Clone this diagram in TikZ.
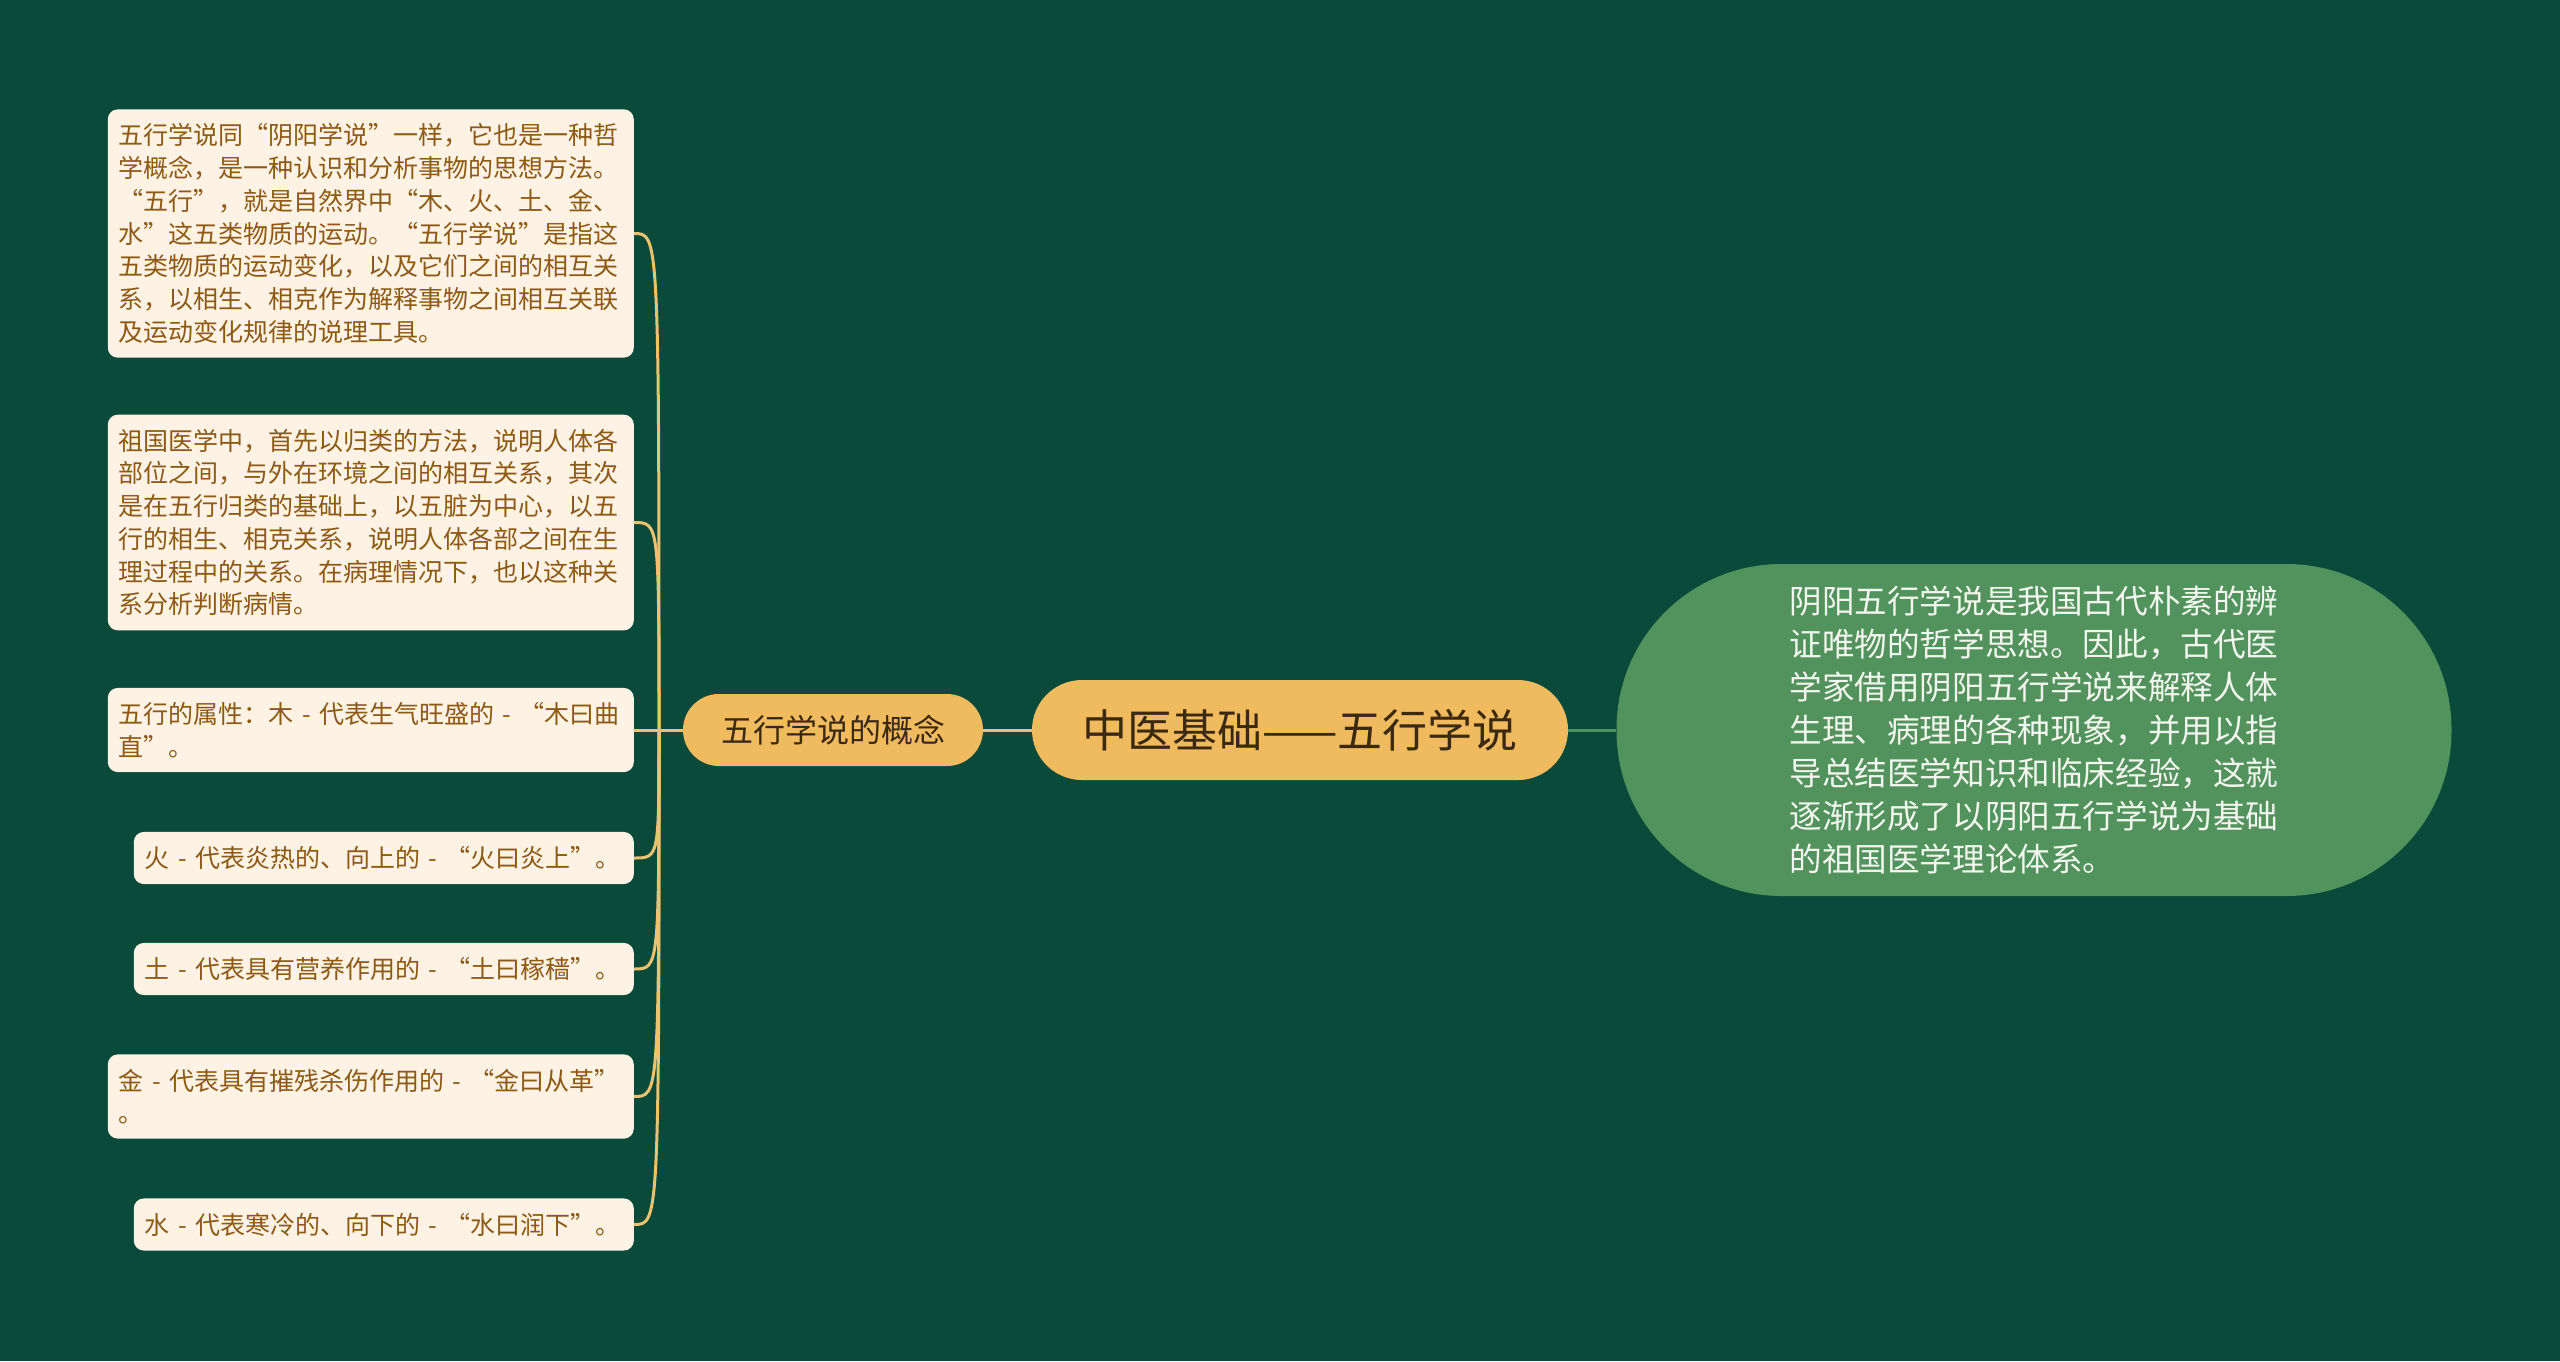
\documentclass[tikz,border=0pt]{standalone}
\usepackage{fontspec}
\setmainfont{Noto Sans CJK SC}
\usetikzlibrary{positioning}

\definecolor{bgdeep}{HTML}{094A3A}
\definecolor{leaffill}{HTML}{FDF2E3}
\definecolor{leaftext}{HTML}{8C5A13}
\definecolor{pillfill}{HTML}{F0BA5F}
\definecolor{pilltext}{HTML}{3A2A12}
\definecolor{notefill}{HTML}{52925C}
\definecolor{notetext}{HTML}{F3F6EE}
\definecolor{branchgold}{HTML}{EBC270}
\definecolor{stemgreen}{HTML}{4E9462}

\begin{document}
\begin{tikzpicture}[x=1pt,y=-1pt,
    leaf/.style={fill=leaffill,text=leaftext,rounded corners=10pt,align=left,
      font=\fontsize{25}{32.7}\selectfont,inner xsep=11pt,inner ysep=14.4pt,anchor=east},
    pill/.style={fill=pillfill,text=pilltext,align=center,inner sep=0pt},
    branch/.style={draw=branchgold,line width=3pt},
    stem/.style={draw=stemgreen,line width=3pt}]
  \fill[bgdeep] (0,0) rectangle (2560,1361);

  % left side: leaves of the concept
  \node[leaf,text width=504pt] (def) at (634,233.5) {五行学说同“阴阳学说”一样，它也是一种哲\\学概念，是一种认识和分析事物的思想方法。\\“五行”，就是自然界中“木、火、土、金、\\水”这五类物质的运动。“五行学说”是指这\\五类物质的运动变化，以及它们之间的相互关\\系，以相生、相克作为解释事物之间相互关联\\及运动变化规律的说理工具。};
  \node[leaf,text width=504pt] (method) at (634,522.5) {祖国医学中，首先以归类的方法，说明人体各\\部位之间，与外在环境之间的相互关系，其次\\是在五行归类的基础上，以五脏为中心，以五\\行的相生、相克关系，说明人体各部之间在生\\理过程中的关系。在病理情况下，也以这种关\\系分析判断病情。};
  \node[leaf,text width=504pt] (wood) at (634,730) {五行的属性：木 - 代表生气旺盛的 - “木曰曲\\直”。};
  \node[leaf,text width=478pt] (fire) at (634,858) {火 - 代表炎热的、向上的 - “火曰炎上”。};
  \node[leaf,text width=478pt] (earth) at (634,969) {土 - 代表具有营养作用的 - “土曰稼穑”。};
  \node[leaf,text width=504pt] (metal) at (634,1096.5) {金 - 代表具有摧残杀伤作用的 - “金曰从革”\\。};
  \node[leaf,text width=478pt] (water) at (634,1224.5) {水 - 代表寒冷的、向下的 - “水曰润下”。};

  % centre
  \node[pill,minimum width=300pt,minimum height=72pt,rounded corners=36pt,
    font=\fontsize{32}{32}\selectfont] (concept) at (833,730) {五行学说的概念};
  \node[pill,minimum width=536pt,minimum height=100pt,rounded corners=50pt,
    font=\fontsize{45}{45}\selectfont] (root) at (1300,730) {中医基础——五行学说};

  % right side
  \node[fill=notefill,text=notetext,align=left,minimum width=835pt,minimum height=332pt,
    rounded corners=165pt,font=\fontsize{32.6}{43}\selectfont] (note) at (2034,730)
    {阴阳五行学说是我国古代朴素的辨\\证唯物的哲学思想。因此，古代医\\学家借用阴阳五行学说来解释人体\\生理、病理的各种现象，并用以指\\导总结医学知识和临床经验，这就\\逐渐形成了以阴阳五行学说为基础\\的祖国医学理论体系。};

  % connectors
  \coordinate (hub) at (659,730);
  \draw[branch] (root) -- (concept);
  \draw[stem] (root) -- (note);
  \draw[branch] (concept.west) -- (hub);
  \foreach \leafname in {def,method,wood,fire,earth,metal,water}
    \draw[branch] (hub) .. controls (hub |- \leafname.east) .. (\leafname.east);
\end{tikzpicture}
\end{document}
